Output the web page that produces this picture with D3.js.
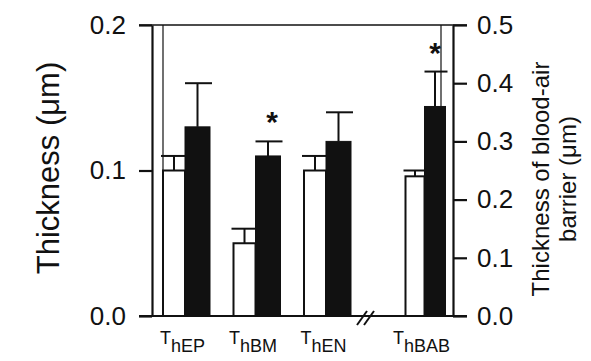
<!DOCTYPE html>
<html>
<head>
<meta charset="utf-8">
<script src="https://cdn.jsdelivr.net/npm/d3@7"></script>
<style>
  body { margin: 0; background: #fff; }
  text { font-family: "Liberation Sans", Arial, sans-serif; fill: #111; }
</style>
</head>
<body>
<div id="chart"></div>
<script>
// data
var categories = ["hEP", "hBM", "hEN", "hBAB"];
var controlMean = [0.10, 0.05, 0.10, 0.24];
var controlErr = [0.01, 0.01, 0.01, 0.01];
var treatedMean = [0.13, 0.11, 0.12, 0.36];
var treatedErr = [0.03, 0.01, 0.02, 0.06];
var significant = [false, true, false, true];
// the last group (blood-air barrier) is read on the right axis
var useRightAxis = [false, false, false, true];
var leftTicks = [0, 0.1, 0.2];
var rightTicks = [0, 0.1, 0.2, 0.3, 0.4, 0.5];

var width = 591,
    height = 361;

var plot = {left: 152, right: 453, top: 25, bottom: 316};

var yLeft = d3.scaleLinear().domain([0, 0.2]).range([plot.bottom, plot.top]);
var yRight = d3.scaleLinear().domain([0, 0.5]).range([plot.bottom, plot.top]);

// group slots, with an axis break before the last group
var slotStep = 70.5, breakGap = 31;
var xSlot = function (i) {
  return 163 + slotStep * i + (i >= 3 ? breakGap : 0);
};
var whiteW = function (i) { return i === 3 ? 19 : 22; };
var blackW = function (i) { return i === 3 ? 21 : 25; };

var svg = d3.select('#chart')
  .append('svg')
  .attr('width', width)
  .attr('height', height)
  .style('background', '#fff');

// frame lines
svg.append('line')
  .attr('x1', 139).attr('x2', 467)
  .attr('y1', plot.top).attr('y2', plot.top)
  .attr('stroke', '#111').attr('stroke-width', 1.5);
svg.append('line')
  .attr('x1', 139).attr('x2', 467)
  .attr('y1', plot.bottom).attr('y2', plot.bottom)
  .attr('stroke', '#111').attr('stroke-width', 2.2);
// thin inner lines from the overlaid panel
svg.append('line')
  .attr('x1', 163).attr('x2', 163)
  .attr('y1', plot.top).attr('y2', plot.bottom)
  .attr('stroke', '#111').attr('stroke-width', 1.2);
svg.append('line')
  .attr('x1', 441).attr('x2', 441)
  .attr('y1', plot.top).attr('y2', plot.bottom)
  .attr('stroke', '#111').attr('stroke-width', 1.2);

// axes
var leftAxis = svg.append('g')
  .attr('transform', 'translate(' + plot.left + ',0)')
  .call(d3.axisLeft(yLeft).tickValues(leftTicks).tickSize(13).tickSizeOuter(0)
    .tickPadding(13).tickFormat(d3.format('.1f')));
var rightAxis = svg.append('g')
  .attr('transform', 'translate(' + plot.right + ',0)')
  .call(d3.axisRight(yRight).tickValues(rightTicks).tickSize(14).tickSizeOuter(0)
    .tickPadding(10).tickFormat(d3.format('.1f')));

[leftAxis, rightAxis].forEach(function (ax) {
  ax.selectAll('path.domain').attr('stroke', '#111').attr('stroke-width', 2.2);
  ax.selectAll('.tick line').attr('stroke', '#111').attr('stroke-width', 2.2);
  ax.selectAll('.tick text')
    .style('font-family', '"Liberation Sans", Arial, sans-serif')
    .style('font-size', '26px').attr('fill', '#111');
});

// axis titles
svg.append('text')
  .attr('transform', 'translate(59,168) rotate(-90)')
  .attr('text-anchor', 'middle')
  .style('font-size', '31px')
  .text('Thickness (μm)');

var rt = svg.append('text')
  .attr('transform', 'translate(549,179) rotate(-90)')
  .attr('text-anchor', 'middle')
  .style('font-size', '24px');
rt.append('tspan').attr('x', 0).attr('dy', 0).text('Thickness of blood-air');
rt.append('tspan').attr('x', 0).attr('dy', 27).text('barrier (μm)');

var yOf = function (i) { return useRightAxis[i] ? yRight : yLeft; };

var groups = svg.selectAll('g.group').data(categories)
  .enter().append('g').attr('class', 'group');

// error bars drawn first so bars sit over the stems
groups.each(function (d, i) {
  var g = d3.select(this), y = yOf(i);
  var wx = xSlot(i), bx = xSlot(i) + whiteW(i);
  // control
  g.append('line')
    .attr('x1', wx + whiteW(i) / 2).attr('x2', wx + whiteW(i) / 2)
    .attr('y1', y(controlMean[i])).attr('y2', y(controlMean[i] + controlErr[i]))
    .attr('stroke', '#111').attr('stroke-width', 2);
  g.append('line')
    .attr('x1', wx - 2).attr('x2', wx + whiteW(i))
    .attr('y1', y(controlMean[i] + controlErr[i])).attr('y2', y(controlMean[i] + controlErr[i]))
    .attr('stroke', '#111').attr('stroke-width', 2);
  // treated
  g.append('line')
    .attr('x1', bx + blackW(i) / 2).attr('x2', bx + blackW(i) / 2)
    .attr('y1', y(treatedMean[i])).attr('y2', y(treatedMean[i] + treatedErr[i]))
    .attr('stroke', '#111').attr('stroke-width', 2);
  g.append('line')
    .attr('x1', bx).attr('x2', bx + blackW(i) + 2)
    .attr('y1', y(treatedMean[i] + treatedErr[i])).attr('y2', y(treatedMean[i] + treatedErr[i]))
    .attr('stroke', '#111').attr('stroke-width', 2);
});

groups.append('rect')
  .attr('x', function (d, i) { return xSlot(i); })
  .attr('y', function (d, i) { return yOf(i)(controlMean[i]); })
  .attr('width', function (d, i) { return whiteW(i); })
  .attr('height', function (d, i) { return plot.bottom - yOf(i)(controlMean[i]); })
  .attr('fill', '#fff')
  .attr('stroke', '#111')
  .attr('stroke-width', 2);

groups.append('rect')
  .attr('x', function (d, i) { return xSlot(i) + whiteW(i); })
  .attr('y', function (d, i) { return yOf(i)(treatedMean[i]); })
  .attr('width', function (d, i) { return blackW(i); })
  .attr('height', function (d, i) { return plot.bottom - yOf(i)(treatedMean[i]); })
  .attr('fill', '#111')
  .attr('stroke', '#111')
  .attr('stroke-width', 1);

// significance stars
groups.filter(function (d, i) { return significant[i]; })
  .append('text')
  .attr('x', function (d, i) {
    var k = categories.indexOf(d);
    return xSlot(k) + whiteW(k) + blackW(k) / 2 + (k === 3 ? 0 : 4);
  })
  .attr('y', function (d) {
    var k = categories.indexOf(d);
    return yOf(k)(treatedMean[k] + treatedErr[k]) - 9;
  })
  .attr('text-anchor', 'middle')
  .style('font-size', '30px')
  .style('font-weight', 'bold')
  .text('*');

// category labels, T with subscript
var labels = groups.append('text')
  .attr('x', function (d, i) { return xSlot(i) + (whiteW(i) + blackW(i)) / 2 - 4; })
  .attr('y', 344)
  .attr('text-anchor', 'middle')
  .style('font-size', '18px');
labels.append('tspan').text('T');
labels.append('tspan').attr('dy', 8).text(function (d) { return d; });

// axis break marks
[0, 7].forEach(function (off) {
  svg.append('line')
    .attr('x1', 357 + off).attr('y1', 325)
    .attr('x2', 367 + off).attr('y2', 311)
    .attr('stroke', '#111').attr('stroke-width', 2);
});
</script>
</body>
</html>
